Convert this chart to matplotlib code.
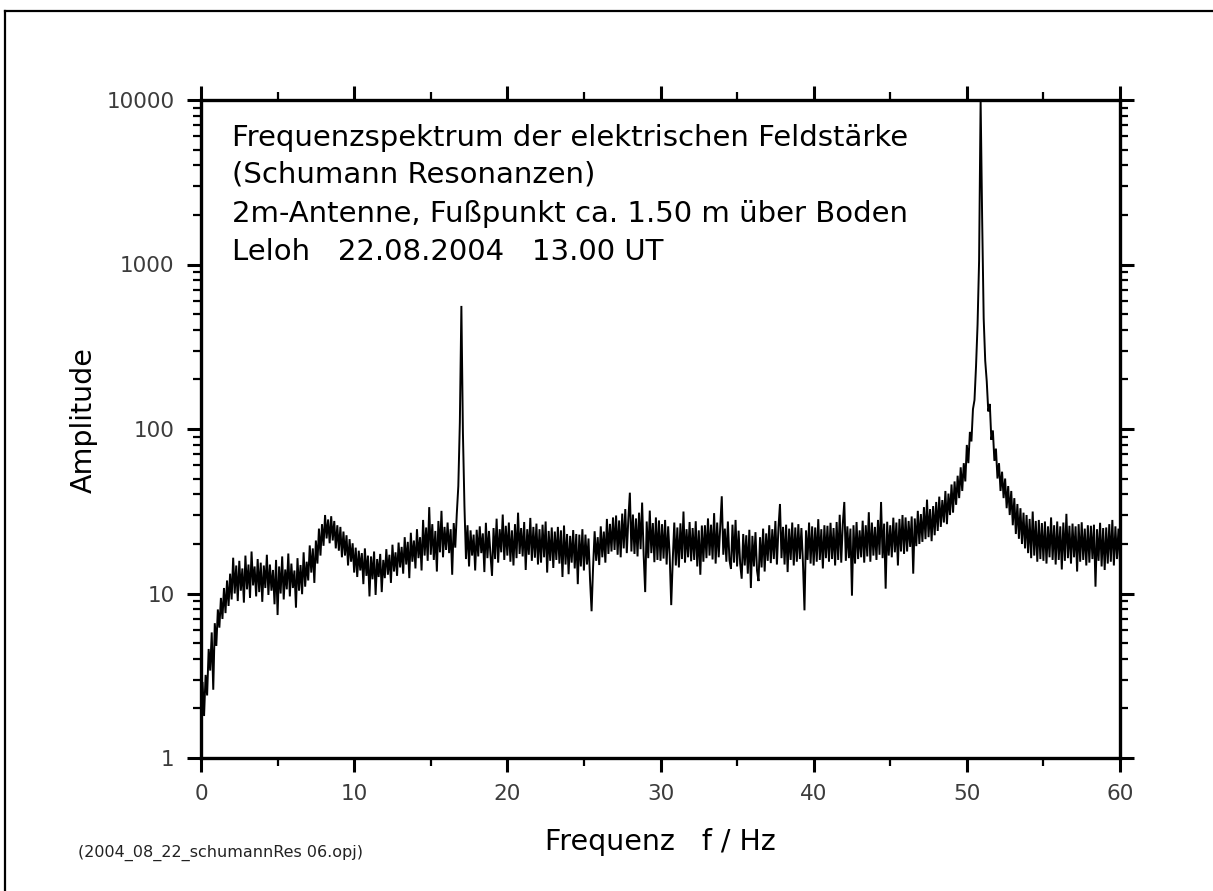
import numpy as np
import matplotlib
matplotlib.use("Agg")
import matplotlib.pyplot as plt
from matplotlib.lines import Line2D
from matplotlib.ticker import LogLocator, NullFormatter, MultipleLocator

plt.rcParams['font.family'] = ['DejaVu Sans']

# ---- data: amplitude spectrum, 0.1 Hz steps from 0 to 60 Hz ----
freq_step = 0.1

amp_00_10 = [
    2.0, 2.9, 1.8, 3.2, 2.4, 4.6, 3.4, 5.8, 2.6, 6.6,
    4.8, 8.0, 6.2, 9.4, 7.0, 10.8, 7.6, 12.0, 8.4, 13.2,
    9.2, 16.5, 10.0, 14.8, 9.0, 15.8, 10.4, 14.2, 8.8, 17.0,
    10.6, 15.0, 9.4, 18.0, 11.2, 14.6, 9.6, 16.2, 10.2, 15.4,
    8.9, 14.8, 10.8, 17.2, 9.8, 15.0, 10.4, 13.9, 8.6, 16.0,
    7.4, 14.6, 10.0, 16.8, 9.2, 14.0, 10.6, 17.5, 9.6, 15.2,
    10.8, 13.8, 8.2, 16.4, 10.4, 14.9, 9.9, 17.8, 11.0, 15.6,
    12.0, 19.6, 13.4, 18.8, 11.6, 21.0, 15.2, 24.8, 17.0, 26.4,
    19.5, 30.0, 21.6, 28.2, 20.2, 29.5, 21.0, 27.6, 18.8, 26.0,
    18.2, 25.4, 16.6, 23.8, 17.0, 22.6, 14.8, 21.4, 15.6, 20.2,
]
amp_10_20 = [
    13.4, 19.0, 12.6, 18.2, 13.8, 17.6, 11.4, 18.8, 12.8, 17.0,
    9.6, 16.8, 12.2, 18.0, 9.8, 16.2, 12.6, 17.4, 10.2, 16.0,
    12.4, 18.6, 13.0, 17.2, 11.6, 19.8, 13.6, 17.8, 12.8, 20.4,
    14.4, 19.2, 13.2, 22.0, 15.0, 20.6, 12.4, 23.4, 15.6, 21.0,
    14.2, 24.6, 16.4, 22.0, 13.8, 28.0, 17.0, 25.2, 15.8, 33.5,
    17.2, 26.4, 16.0, 24.0, 13.6, 27.6, 17.8, 31.8, 16.6, 25.4,
    18.4, 27.0, 17.6, 24.6, 13.0, 26.8, 19.0, 30.5, 45.0, 110.0,
    560.0, 95.0, 34.0, 16.2, 26.0, 14.6, 24.2, 17.0, 22.8, 13.8,
    24.4, 16.8, 25.6, 17.6, 23.2, 13.5, 26.9, 16.4, 24.0, 17.2,
    12.8, 25.0, 16.2, 28.5, 15.4, 24.6, 17.8, 30.2, 16.0, 25.8,
]
amp_20_30 = [
    17.0, 27.0, 15.6, 24.2, 14.8, 26.4, 16.4, 31.0, 17.4, 25.0,
    16.8, 27.2, 13.9, 24.6, 17.2, 28.8, 15.8, 25.4, 16.5, 26.6,
    15.0, 24.6, 15.4, 26.2, 16.6, 27.4, 13.4, 24.0, 15.8, 25.2,
    14.3, 23.8, 16.0, 25.4, 15.2, 24.2, 12.6, 25.9, 15.0, 23.0,
    13.1, 22.4, 15.4, 24.3, 14.2, 23.0, 11.4, 22.8, 14.6, 24.6,
    13.8, 22.8, 15.0, 21.6, 12.1, 7.8, 14.6, 23.9, 15.8, 22.0,
    14.9, 25.6, 16.6, 23.8, 15.4, 28.4, 17.4, 26.5, 18.0, 29.0,
    18.4, 29.8, 17.2, 27.8, 16.6, 30.6, 18.8, 32.6, 17.6, 28.4,
    41.0, 18.0, 30.2, 17.4, 28.6, 16.8, 31.0, 18.6, 35.7, 17.2,
    10.2, 27.4, 16.4, 31.9, 17.6, 26.8, 15.5, 29.0, 16.0, 27.8,
]
amp_30_40 = [
    15.8, 26.4, 16.3, 28.0, 15.0, 25.6, 17.0, 8.5, 16.0, 27.0,
    14.8, 25.2, 14.4, 26.7, 16.2, 31.5, 15.4, 24.6, 16.6, 27.2,
    15.7, 25.0, 16.0, 27.5, 14.6, 24.2, 13.0, 25.9, 15.6, 26.0,
    16.4, 28.6, 17.0, 26.2, 16.1, 30.8, 15.2, 27.0, 16.6, 25.8,
    39.0, 17.2, 24.8, 15.6, 27.4, 16.0, 14.1, 26.2, 15.4, 28.0,
    14.6, 24.1, 15.2, 12.3, 23.0, 14.8, 22.6, 13.2, 24.4, 10.8,
    22.4, 14.6, 23.6, 13.8, 11.9, 22.0, 14.4, 24.8, 13.6, 23.2,
    15.8, 26.0, 15.3, 24.6, 16.2, 27.6, 15.0, 25.0, 35.0, 16.4,
    25.4, 15.0, 26.2, 13.5, 24.8, 16.0, 27.0, 14.8, 25.2, 15.6,
    26.4, 16.2, 25.0, 15.4, 7.9, 24.2, 16.0, 27.0, 15.2, 25.6,
]
amp_40_50 = [
    14.8, 25.2, 15.6, 28.3, 16.0, 24.6, 14.2, 26.0, 16.4, 25.8,
    15.6, 26.9, 16.2, 25.0, 14.8, 27.2, 16.0, 30.1, 15.4, 26.4,
    36.0, 15.8, 25.6, 16.4, 24.8, 9.7, 26.0, 15.2, 27.2, 16.2,
    24.2, 16.6, 27.7, 15.4, 26.0, 16.8, 31.2, 15.6, 27.0, 17.0,
    25.4, 16.0, 28.0, 17.2, 36.0, 16.4, 26.6, 10.7, 27.3, 17.0,
    26.0, 16.6, 28.9, 17.8, 27.0, 14.8, 28.4, 18.0, 30.0, 17.4,
    29.0, 18.0, 27.6, 19.2, 29.4, 13.2, 28.6, 19.4, 31.8, 20.0,
    30.4, 20.6, 33.5, 21.4, 37.2, 22.0, 32.6, 20.8, 34.0, 22.6,
    36.0, 24.0, 38.8, 25.4, 37.0, 27.0, 42.0, 26.4, 40.5, 30.0,
    46.0, 31.0, 48.0, 34.6, 52.0, 38.0, 58.5, 42.0, 62.0, 48.0,
]
amp_50_60 = [
    80.0, 62.0, 96.0, 84.0, 132.0, 150.0, 240.0, 430.0, 1050.0, 10000.0,
    1900.0, 470.0, 260.0, 195.0, 128.0, 142.0, 86.0, 98.0, 64.0, 76.0,
    50.0, 62.0, 42.0, 55.0, 38.0, 50.0, 33.0, 45.0, 30.0, 42.0,
    26.0, 38.0, 23.0, 35.0, 21.5, 33.0, 20.0, 31.0, 18.8, 30.0,
    17.6, 28.4, 16.4, 31.5, 17.0, 27.6, 15.6, 28.0, 16.2, 26.8,
    15.8, 27.4, 15.2, 25.6, 16.6, 29.0, 16.0, 26.0, 15.0, 27.4,
    16.0, 25.6, 14.0, 27.0, 15.8, 30.5, 16.4, 25.8, 15.2, 26.6,
    16.6, 25.6, 13.6, 26.4, 15.6, 27.1, 16.0, 24.8, 14.8, 26.0,
    15.4, 25.8, 16.2, 26.2, 11.0, 24.6, 15.8, 26.9, 14.6, 25.0,
    13.9, 25.2, 15.2, 26.4, 15.6, 28.0, 14.8, 25.6, 16.2, 24.8,
    15.4,
]

x_ticks = [0, 10, 20, 30, 40, 50, 60]
y_ticks = [1, 10, 100, 1000, 10000]
y_tick_labels = ["1", "10", "100", "1000", "10000"]

info_lines = [
    "Frequenzspektrum der elektrischen Feldstärke",
    "(Schumann Resonanzen)",
    "2m-Antenne, Fußpunkt ca. 1.50 m über Boden",
    "Leloh   22.08.2004   13.00 UT",
]
x_label = "Frequenz   f / Hz"
y_label = "Amplitude"
file_note = "(2004_08_22_schumannRes 06.opj)"

amp = np.array(amp_00_10 + amp_10_20 + amp_20_30 + amp_30_40 + amp_40_50 + amp_50_60)
freq = np.arange(len(amp)) * freq_step

# ---- figure ----
W, H = 1213, 891
fig = plt.figure(figsize=(W / 100, H / 100), dpi=100)
fig.patch.set_facecolor('white')

def fx(px):
    return px / W

def fy(py):
    return 1 - py / H

ax = fig.add_axes([fx(201), fy(758), fx(1120) - fx(201), fy(100) - fy(758)])
ax.plot(freq, amp, color='black', lw=1.4, solid_joinstyle='miter')
ax.set_yscale('log')
ax.set_xlim(0, 60)
ax.set_ylim(1, 10000)

ax.set_xticks(x_ticks)
ax.xaxis.set_minor_locator(MultipleLocator(5))
ax.set_yticks(y_ticks, labels=y_tick_labels)
ax.yaxis.set_minor_locator(LogLocator(base=10, subs=range(2, 10)))
ax.yaxis.set_minor_formatter(NullFormatter())

for s in ax.spines.values():
    s.set_linewidth(2.4)

ax.tick_params(which='both', direction='out', top=True, right=True,
               labeltop=False, labelright=False)
ax.tick_params(which='major', length=10, width=2.2, labelsize=15.5,
               labelcolor='#3c3c3c', pad=9)
ax.tick_params(which='minor', length=6, width=1.6)

# text block
baselines = [146, 182, 222, 260]
for line, yb in zip(info_lines, baselines):
    fig.text(fx(232), fy(yb), line, fontsize=21, color='black',
             ha='left', va='baseline')

fig.text(fx(84), fy(420), y_label, fontsize=20.5, rotation=90,
         ha='center', va='center', color='black')
fig.text(fx(660), fy(850), x_label, fontsize=20.5, ha='center',
         va='baseline', color='black')
fig.text(fx(78), fy(857), file_note, fontsize=11.5, ha='left',
         va='baseline', color='#222222')

# outer frame (top and left edges visible)
fig.add_artist(Line2D([fx(5), fx(5)], [0, fy(11)], transform=fig.transFigure,
                      color='black', lw=1.6))
fig.add_artist(Line2D([fx(5), 1], [fy(11), fy(11)], transform=fig.transFigure,
                      color='black', lw=1.6))

fig.savefig("out.png", dpi=100, facecolor='white')
